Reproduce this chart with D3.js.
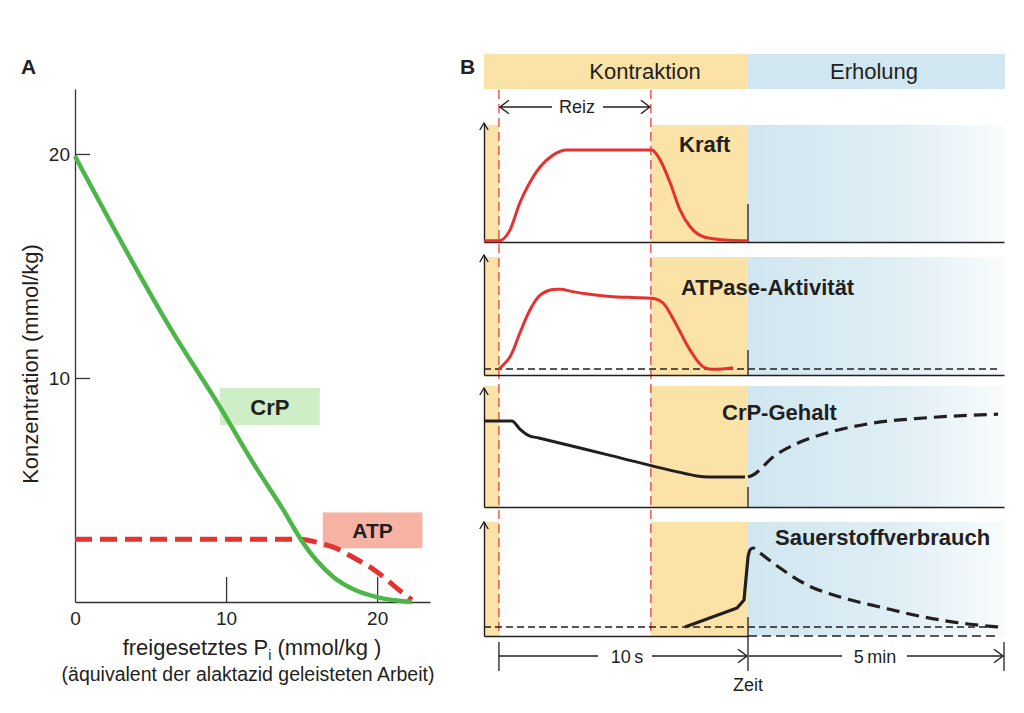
<!DOCTYPE html>
<html><head><meta charset="utf-8">
<script src="https://cdn.jsdelivr.net/npm/d3@7"></script>
<style>
body{margin:0;background:#fff}
svg{display:block}
text{font-family:"Liberation Sans",Arial,Helvetica,sans-serif;fill:#231f20}
</style>
</head><body>
<svg id="c" width="1024" height="713"></svg>
<script>
// ---------------- Panel A data ----------------
const aTickX = [0, 10, 20];
const aTickY = [10, 20];
const crpAX = [0, 6.42, 9.6, 11.8, 13.8, 14.9, 16.0, 17.1, 18.5, 20.0, 22.3];
const crpAY = [19.9, 12.1, 8.7, 6.2, 4.1, 2.85, 1.85, 1.12, 0.55, 0.22, 0];
const atpAX = [0, 14.9, 16.2, 17.1, 18.4, 20.0, 21.3, 22.3];
const atpAY = [2.8, 2.8, 2.63, 2.45, 2.0, 1.34, 0.62, 0.09];

// ---------------- Panel B data (time in s; recovery 10..310 s) ----------------
const phases = ["Kontraktion", "Erholung"];
const panelNames = ["Kraft", "ATPase-Aktivität", "CrP-Gehalt", "Sauerstoffverbrauch"];
const kraftT = [-0.6, 0, 0.44, 0.84, 1.24, 1.65, 2.17, 2.73, 6.14, 6.47, 6.87, 7.27, 7.67, 8.27, 9.08, 10];
const kraftV = [0.01, 0.01, 0.1, 0.33, 0.5, 0.63, 0.73, 0.773, 0.773, 0.69, 0.5, 0.27, 0.13, 0.04, 0.017, 0.01];
const atpaseT = [0, 0.44, 0.84, 1.24, 1.65, 2.1, 2.5, 2.9, 3.65, 4.46, 5.66, 6.27, 6.59, 7.07, 7.67, 8.27, 9.4];
const atpaseV = [0.05, 0.15, 0.35, 0.54, 0.665, 0.71, 0.714, 0.697, 0.672, 0.655, 0.643, 0.635, 0.60, 0.44, 0.21, 0.06, 0.06];
const atpaseBase = 0.05;
const crpBT = [-0.6, 0.52, 0.84, 1.2, 1.6, 4.5, 7.5, 7.95, 8.4, 9.88];
const crpBV = [0.723, 0.723, 0.655, 0.6, 0.58, 0.432, 0.28, 0.261, 0.252, 0.252];
const crpRecT = [10, 15.9, 39.4, 71.2, 106.5, 157, 216, 303];
const crpRecV = [0.252, 0.269, 0.42, 0.546, 0.63, 0.706, 0.748, 0.78];
const o2T = [7.47, 9.56, 9.84, 10];
const o2V = [0.079, 0.246, 0.316, 0.693];
const o2RecT = [10, 12.3, 15.9, 24.1, 47.6, 79.4, 118, 165, 216, 268, 303];
const o2RecV = [0.693, 0.754, 0.772, 0.728, 0.596, 0.447, 0.342, 0.254, 0.167, 0.105, 0.079];
const o2Base = 0.079;
const stimStart = 0, stimEnd = 6.1, contrEnd = 10, recEnd = 310;

const svg = d3.select("#c");
const ink = "#231f20";
const red = "#e3322f";
const green = "#4cb748";
const yellow = "#fbe3a8";
const blue = "#d0e6f0";

// ================= PANEL A =================
const xA = d3.scaleLinear().domain([0, 23.5]).range([75, 430]);
const yA = d3.scaleLinear().domain([0, 22.9]).range([602, 89]);
const gA = svg.append("g");

gA.append("text").attr("x", 21).attr("y", 74).attr("font-size", 21).attr("font-weight", "bold").text("A");

// label boxes
gA.append("rect").attr("x", xA(9.6)).attr("y", yA(9.55)).attr("width", xA(16.2) - xA(9.6)).attr("height", yA(7.9) - yA(9.55)).attr("fill", "#cdeec7");
gA.append("rect").attr("x", xA(16.4)).attr("y", yA(4.0)).attr("width", xA(23.0) - xA(16.4)).attr("height", yA(2.4) - yA(4.0)).attr("fill", "#f6b3a4");
gA.append("text").attr("x", (xA(9.6) + xA(16.2)) / 2).attr("y", (yA(9.55) + yA(7.9)) / 2 + 8).attr("text-anchor", "middle").attr("font-size", 22).attr("font-weight", "bold").text("CrP");
gA.append("text").attr("x", (xA(16.4) + xA(23.0)) / 2).attr("y", (yA(4.0) + yA(2.4)) / 2 + 8).attr("text-anchor", "middle").attr("font-size", 21).attr("font-weight", "bold").text("ATP");

const yAx = gA.append("g").attr("transform", `translate(${xA(0)},0)`)
  .call(d3.axisLeft(yA).tickValues(aTickY).tickSizeInner(-15).tickSizeOuter(0).tickPadding(5).tickFormat(d3.format("d")));
const xAx = gA.append("g").attr("transform", `translate(0,${yA(0)})`)
  .call(d3.axisBottom(xA).tickValues(aTickX).tickSizeInner(-25).tickSizeOuter(0).tickPadding(10).tickFormat(d3.format("d")));
[yAx, xAx].forEach(g => {
  g.selectAll("path,line").attr("stroke", "#333").attr("stroke-width", 1.3);
  g.selectAll("text").attr("font-size", 19).attr("font-family", null).attr("fill", ink);
});
xAx.selectAll(".tick").filter(d => d === 0).select("line").remove();

const lineA = d3.line().x(d => xA(d[0])).y(d => yA(d[1])).curve(d3.curveMonotoneX);
gA.append("path").datum(atpAX.map((x, i) => [x, atpAY[i]])).attr("d", lineA)
  .attr("fill", "none").attr("stroke", red).attr("stroke-width", 5).attr("stroke-dasharray", "17,8");
gA.append("path").datum(crpAX.map((x, i) => [x, crpAY[i]])).attr("d", lineA)
  .attr("fill", "none").attr("stroke", green).attr("stroke-width", 4.5);

gA.append("text").attr("transform", "translate(38,364) rotate(-90)").attr("text-anchor", "middle").attr("font-size", 22).text("Konzentration (mmol/kg)");
const xl = gA.append("text").attr("x", 252).attr("y", 655).attr("text-anchor", "middle").attr("font-size", 22);
xl.append("tspan").text("freigesetztes P");
xl.append("tspan").attr("font-size", 14).attr("dy", 5).text("i");
xl.append("tspan").attr("dy", -5).text("  (mmol/kg )");
gA.append("text").attr("x", 248).attr("y", 681).attr("text-anchor", "middle").attr("font-size", 19.5).text("(äquivalent der alaktazid geleisteten Arbeit)");

// ================= PANEL B =================
const xB = d3.scaleLinear().domain([-0.6, contrEnd, recEnd]).range([484, 748, 1004]);
const panels = [
  { name: panelNames[0], axis: 242, top: 123, band: 125, tick: 204, lx: 679, ly: 152 },
  { name: panelNames[1], axis: 375, top: 255, band: 257, tick: 350, lx: 681, ly: 295 },
  { name: panelNames[2], axis: 507, top: 388, band: 386, tick: 487, lx: 722, ly: 420 },
  { name: panelNames[3], axis: 636, top: 522, band: 522, tick: 617, lx: 775, ly: 545 }
];
panels.forEach(p => { p.y = d3.scaleLinear().domain([0, 1]).range([p.axis, p.top]); });

const defs = svg.append("defs");
const grad = defs.append("linearGradient").attr("id", "bl").attr("x1", 0).attr("x2", 1).attr("y1", 0).attr("y2", 0);
grad.append("stop").attr("offset", "0%").attr("stop-color", blue).attr("stop-opacity", 1);
grad.append("stop").attr("offset", "55%").attr("stop-color", blue).attr("stop-opacity", 0.7);
grad.append("stop").attr("offset", "100%").attr("stop-color", blue).attr("stop-opacity", 0.15);

const gB = svg.append("g");
gB.append("text").attr("x", 460).attr("y", 74).attr("font-size", 21).attr("font-weight", "bold").text("B");

// header
gB.append("rect").attr("x", xB(-0.6)).attr("y", 54).attr("width", xB(contrEnd) - xB(-0.6)).attr("height", 35).attr("fill", yellow);
gB.append("rect").attr("x", xB(contrEnd)).attr("y", 54).attr("width", xB(recEnd) - xB(contrEnd) + 1).attr("height", 35).attr("fill", blue);
gB.append("text").attr("x", 645).attr("y", 79).attr("text-anchor", "middle").attr("font-size", 22).text(phases[0]);
gB.append("text").attr("x", 874).attr("y", 79).attr("text-anchor", "middle").attr("font-size", 22).text(phases[1]);

// bands in panels
panels.forEach(p => {
  gB.append("rect").attr("x", xB(-0.6)).attr("y", p.band).attr("width", xB(stimStart) - xB(-0.6)).attr("height", p.axis - p.band).attr("fill", yellow);
  gB.append("rect").attr("x", xB(stimEnd)).attr("y", p.band).attr("width", xB(contrEnd) - xB(stimEnd)).attr("height", p.axis - p.band).attr("fill", yellow);
  gB.append("rect").attr("x", xB(contrEnd)).attr("y", p.band).attr("width", xB(recEnd) - xB(contrEnd)).attr("height", p.axis - p.band).attr("fill", "url(#bl)");
});

// red stimulus lines
[stimStart, stimEnd].forEach(t => {
  gB.append("line").attr("x1", xB(t)).attr("x2", xB(t)).attr("y1", 90).attr("y2", 636)
    .attr("stroke", red).attr("stroke-width", 1.2).attr("stroke-dasharray", "9,5");
});

// arrow helpers
function chevron(g, x, y, dir, size) {
  size = size || 7;
  let pts;
  if (dir === "r") pts = [[x - size, y - size * 0.75], [x, y], [x - size, y + size * 0.75]];
  else if (dir === "l") pts = [[x + size, y - size * 0.75], [x, y], [x + size, y + size * 0.75]];
  else pts = [[x - size * 0.6, y + size], [x, y], [x + size * 0.6, y + size]];
  g.append("path").attr("d", d3.line()(pts)).attr("fill", "none").attr("stroke", ink).attr("stroke-width", 1.4);
}
function hline(g, x1, x2, y, w) {
  g.append("line").attr("x1", x1).attr("x2", x2).attr("y1", y).attr("y2", y).attr("stroke", ink).attr("stroke-width", w || 1.4);
}

// Reiz arrow
hline(gB, xB(stimStart) + 1, 552, 107);
hline(gB, 603, xB(stimEnd) - 1, 107);
chevron(gB, xB(stimStart) + 1, 107, "l", 9);
chevron(gB, xB(stimEnd) - 1, 107, "r", 9);
gB.append("text").attr("x", 577).attr("y", 113).attr("text-anchor", "middle").attr("font-size", 18).text("Reiz");

// axes
panels.forEach((p, i) => {
  const ya = gB.append("g").attr("transform", `translate(${xB(-0.6)},0)`)
    .call(d3.axisLeft(p.y).tickValues([]).tickSizeOuter(0));
  ya.select("path").attr("stroke", ink).attr("stroke-width", 1.4);
  chevron(gB, xB(-0.6), p.top, "u", 7);
  if (i < 3) {
    const xa = gB.append("g").attr("transform", `translate(0,${p.axis})`)
      .call(d3.axisBottom(xB).tickValues([]).tickSizeOuter(0));
    xa.select("path").attr("stroke", ink).attr("stroke-width", 1.5);
  } else {
    const xs = d3.scaleLinear().domain([-0.6, contrEnd]).range([xB(-0.6), xB(contrEnd)]);
    const xa = gB.append("g").attr("transform", `translate(0,${p.axis})`)
      .call(d3.axisBottom(xs).tickValues([]).tickSizeOuter(0));
    xa.select("path").attr("stroke", ink).attr("stroke-width", 1.5);
    gB.append("line").attr("x1", xB(contrEnd)).attr("x2", xB(recEnd) - 4).attr("y1", p.axis).attr("y2", p.axis)
      .attr("stroke", ink).attr("stroke-width", 1.5).attr("stroke-dasharray", "9,5");
  }
  gB.append("line").attr("x1", xB(contrEnd)).attr("x2", xB(contrEnd)).attr("y1", p.tick).attr("y2", p.axis)
    .attr("stroke", ink).attr("stroke-width", 1.3);
  gB.append("text").attr("x", p.lx).attr("y", p.ly).attr("font-size", 22).attr("font-weight", "bold").text(p.name);
});

// curves
const mk = (T, V) => T.map((t, i) => [t, V[i]]);
function curve(p, T, V, opts) {
  const ln = d3.line().x(d => xB(d[0])).y(d => p.y(d[1])).curve(opts.curve || d3.curveMonotoneX);
  gB.append("path").datum(mk(T, V)).attr("d", ln).attr("fill", "none")
    .attr("stroke", opts.color).attr("stroke-width", opts.width)
    .attr("stroke-dasharray", opts.dash || null).attr("stroke-linejoin", "round");
}
// baselines
curve(panels[1], [-0.6, 305], [atpaseBase, atpaseBase], { color: ink, width: 1.5, dash: "7,4", curve: d3.curveLinear });
curve(panels[3], [-0.6, 305], [o2Base, o2Base], { color: ink, width: 1.5, dash: "7,4", curve: d3.curveLinear });

curve(panels[0], kraftT, kraftV, { color: red, width: 3 });
curve(panels[1], atpaseT, atpaseV, { color: red, width: 3, curve: d3.curveCatmullRom });
curve(panels[2], crpBT, crpBV, { color: ink, width: 3 });
curve(panels[2], crpRecT, crpRecV, { color: ink, width: 3.2, dash: "13,7" });
curve(panels[3], o2T, o2V, { color: ink, width: 3.2, curve: d3.curveLinear });
curve(panels[3], o2RecT, o2RecV, { color: ink, width: 3.2, dash: "13,7" });

// time arrows
const ty = 656;
[stimStart, contrEnd, recEnd].forEach(t => {
  gB.append("line").attr("x1", xB(t)).attr("x2", xB(t)).attr("y1", t === contrEnd ? 636 : 642).attr("y2", 671)
    .attr("stroke", ink).attr("stroke-width", 1.3);
});
hline(gB, xB(stimStart), 598, ty);
hline(gB, 652, xB(contrEnd) - 1, ty);
chevron(gB, xB(contrEnd) - 1, ty, "r", 9);
gB.append("text").attr("x", 627).attr("y", 663).attr("text-anchor", "middle").attr("font-size", 18).text("10\u2009s");
hline(gB, xB(contrEnd) + 1, 842, ty);
hline(gB, 907, xB(recEnd) - 1, ty);
chevron(gB, xB(recEnd) - 1, ty, "r", 9);
gB.append("text").attr("x", 875).attr("y", 663).attr("text-anchor", "middle").attr("font-size", 18).text("5\u2009min");
gB.append("text").attr("x", 748).attr("y", 691).attr("text-anchor", "middle").attr("font-size", 18).text("Zeit");
</script>
</body></html>
